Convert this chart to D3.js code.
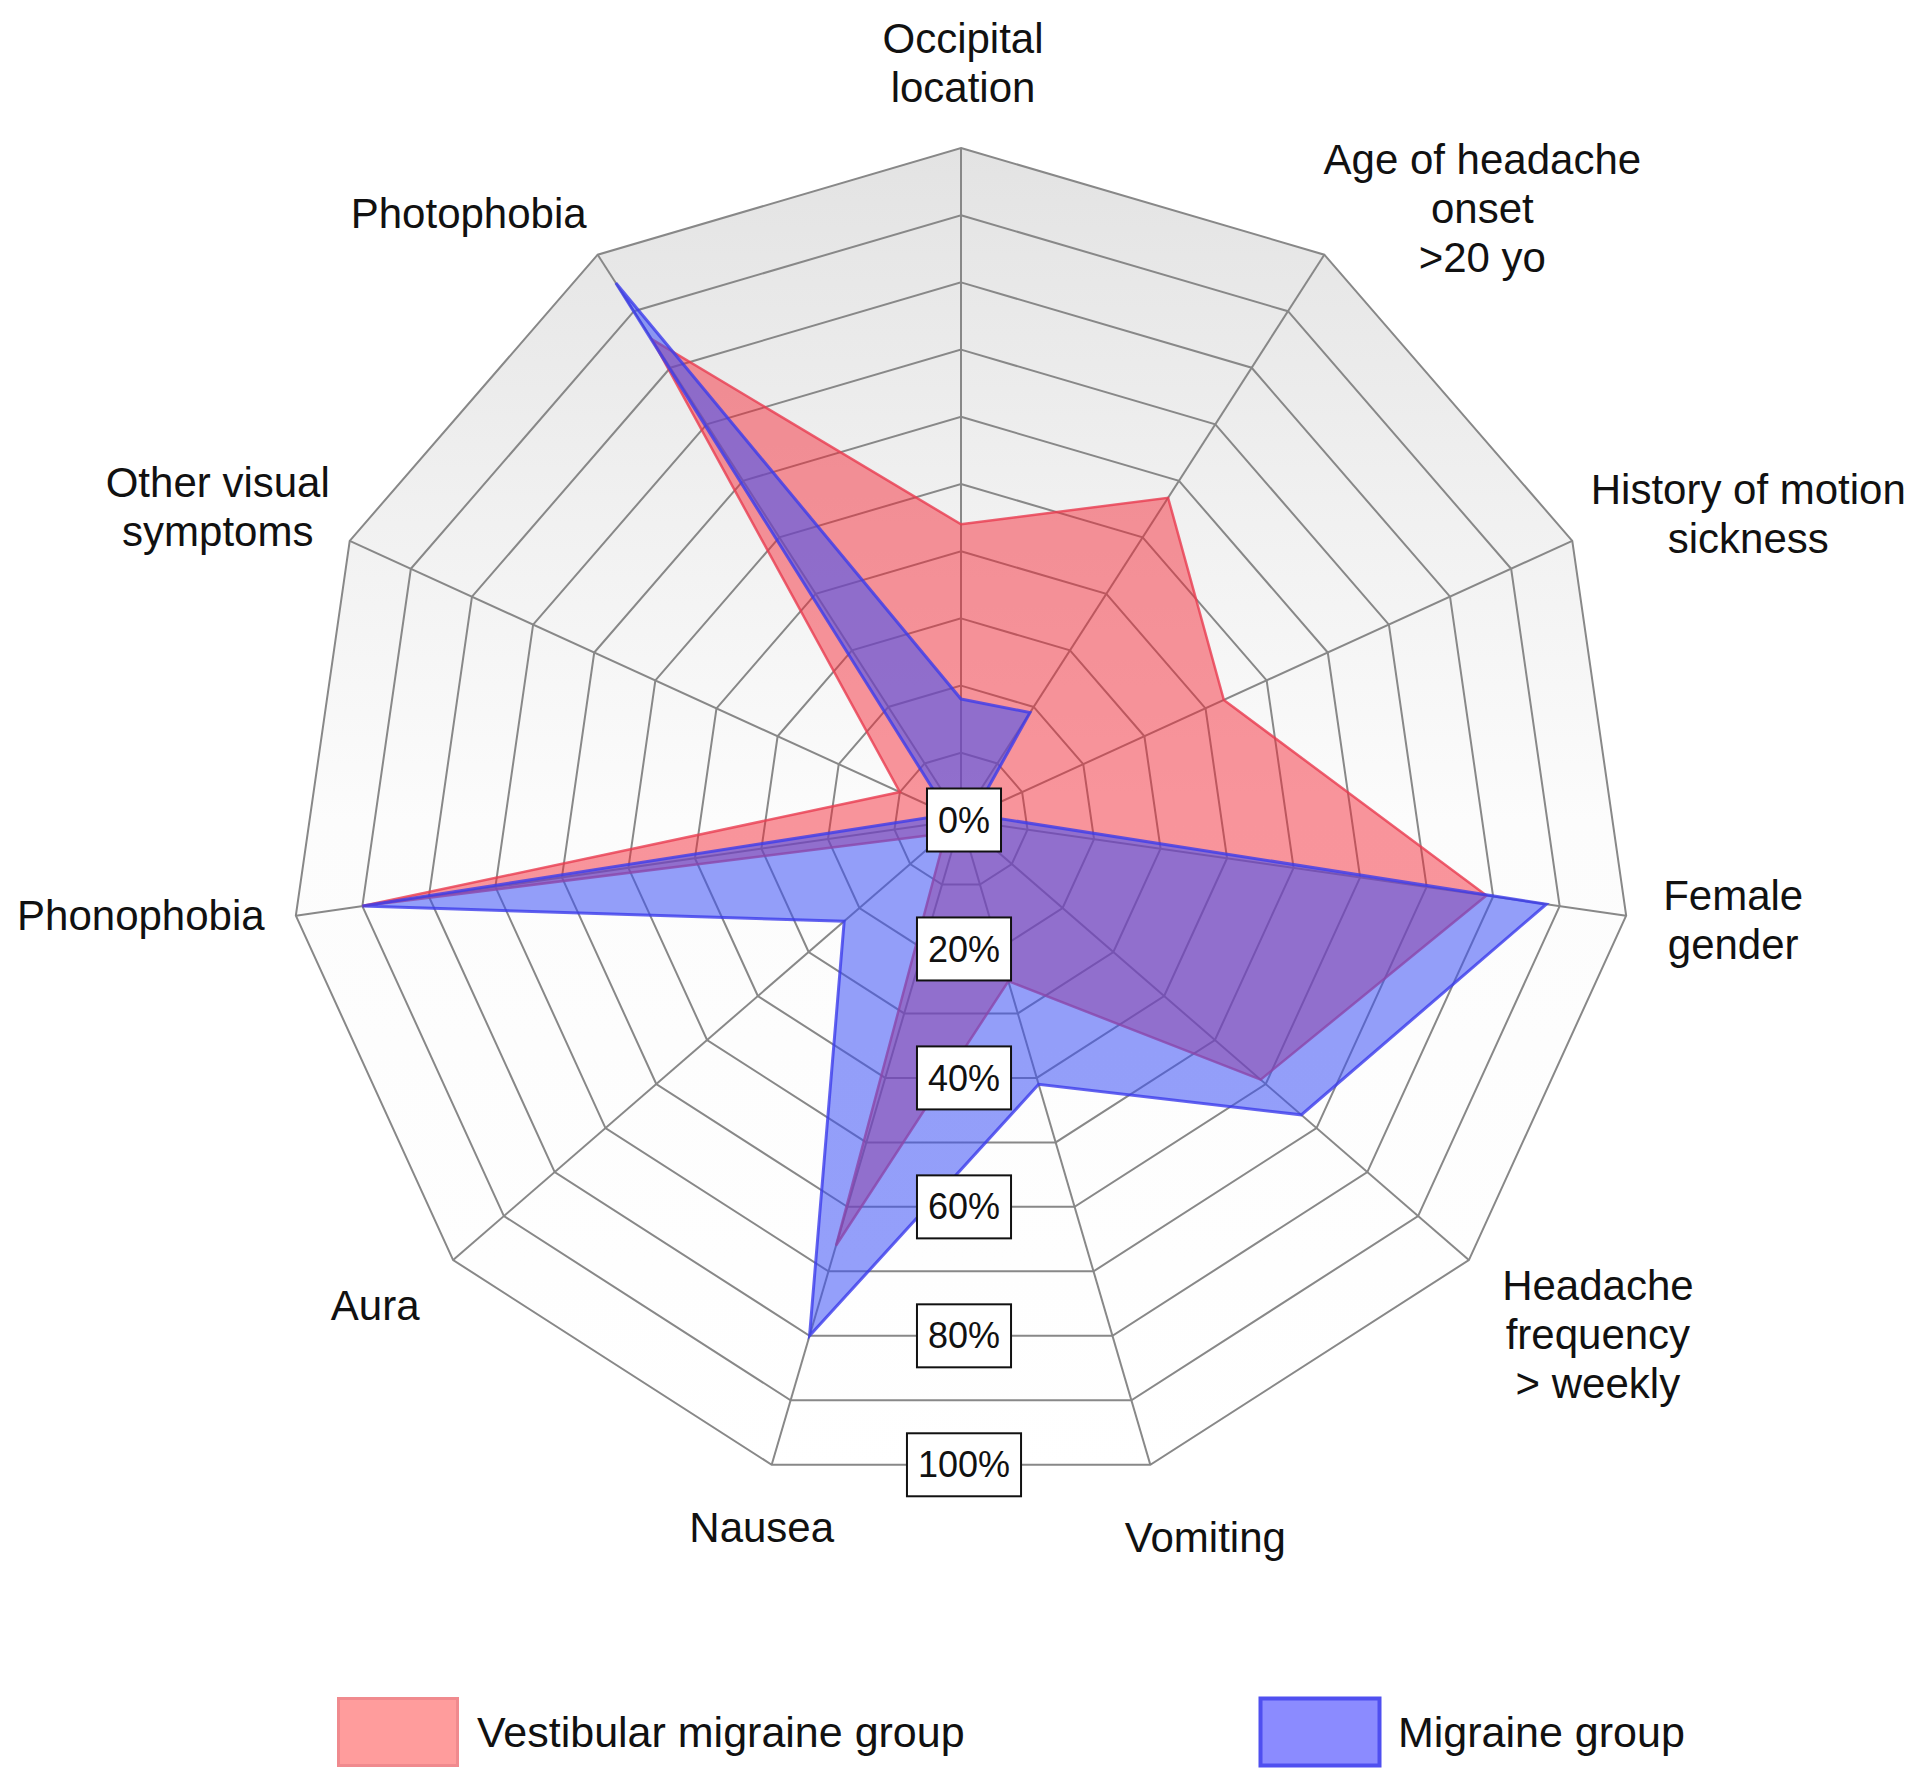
<!DOCTYPE html>
<html>
<head>
<meta charset="utf-8">
<script src="https://cdn.jsdelivr.net/npm/d3@7"></script>
<style>
  html, body { margin: 0; padding: 0; background: #ffffff; }
  svg { display: block; }
  text { font-family: "Liberation Sans", Arial, sans-serif; fill: #111; }
</style>
</head>
<body>
<svg id="chart" width="1920" height="1785"></svg>
<script>
// ---------------- data ----------------
const categories = [
  "Occipital location",
  "Age of headache onset >20 yo",
  "History of motion sickness",
  "Female gender",
  "Headache frequency > weekly",
  "Vomiting",
  "Nausea",
  "Aura",
  "Phonophobia",
  "Other visual symptoms",
  "Photophobia"
];
const categoryLines = [
  ["Occipital", "location"],
  ["Age of headache", "onset", ">20 yo"],
  ["History of motion", "sickness"],
  ["Female", "gender"],
  ["Headache", "frequency", "> weekly"],
  ["Vomiting"],
  ["Nausea"],
  ["Aura"],
  ["Phonophobia"],
  ["Other visual", "symptoms"],
  ["Photophobia"]
];
const vestibularMigraine = [44, 57, 43, 79, 59, 25, 66, 3, 90, 10, 85];
const migraineGroup      = [18, 19, 2, 88, 67, 41, 80, 23, 90, 2, 95];
const seriesNames = ["Vestibular migraine group", "Migraine group"];
const gridLevels = [10, 20, 30, 40, 50, 60, 70, 80, 90, 100];
const tickLabels = [0, 20, 40, 60, 80, 100];

// ---------------- layout ----------------
const cx = 961, cy = 820, R = 672;
const n = categories.length;
const svg = d3.select("#chart");
const rScale = d3.scaleLinear().domain([0, 100]).range([0, R]);
const angleOf = i => i * 2 * Math.PI / n;
const g = svg.append("g").attr("transform", `translate(${cx},${cy})`);

const radial = d3.lineRadial()
  .angle((d, i) => angleOf(i))
  .radius(d => rScale(d))
  .curve(d3.curveLinearClosed);

// background gradient inside outer polygon
const defs = svg.append("defs");
const grad = defs.append("linearGradient")
  .attr("id", "bg").attr("gradientUnits", "userSpaceOnUse")
  .attr("x1", 0).attr("x2", 0).attr("y1", -R).attr("y2", R);
grad.append("stop").attr("offset", 0).attr("stop-color", "#e3e3e3");
grad.append("stop").attr("offset", 0.5).attr("stop-color", "#fcfcfc");
grad.append("stop").attr("offset", 1).attr("stop-color", "#ffffff");

g.append("path")
  .attr("d", radial(d3.range(n).map(() => 100)))
  .attr("fill", "url(#bg)");

// grid rings
g.selectAll("path.ring").data(gridLevels).join("path")
  .attr("class", "ring")
  .attr("d", lv => radial(d3.range(n).map(() => lv)))
  .attr("fill", "none")
  .attr("stroke", "#888888")
  .attr("stroke-width", 2);

// spokes
g.selectAll("line.spoke").data(d3.range(n)).join("line")
  .attr("class", "spoke")
  .attr("x1", 0).attr("y1", 0)
  .attr("x2", i => rScale(100) * Math.sin(angleOf(i)))
  .attr("y2", i => -rScale(100) * Math.cos(angleOf(i)))
  .attr("stroke", "#888888")
  .attr("stroke-width", 2);

// series
const series = [
  { name: seriesNames[0], values: vestibularMigraine, fill: "rgb(245,35,50)", fo: 0.48, stroke: "rgb(232,60,80)", sw: 2.5,
    legendFill: "#ff9c9c", legendStroke: "#f08a8e" },
  { name: seriesNames[1], values: migraineGroup, fill: "rgb(60,80,245)", fo: 0.55, stroke: "rgb(60,60,235)", sw: 3,
    legendFill: "#8b8bff", legendStroke: "#4f4ff0" }
];
g.selectAll("path.series").data(series).join("path")
  .attr("class", "series")
  .attr("d", s => radial(s.values))
  .attr("fill", s => s.fill)
  .attr("fill-opacity", s => s.fo)
  .attr("stroke", s => s.stroke)
  .attr("stroke-opacity", 0.8)
  .attr("stroke-width", s => s.sw)
  .attr("stroke-linejoin", "miter");

// tick label boxes along the downward direction (edge midpoint)
const edgeFactor = Math.cos(Math.PI / n);
const tickG = g.selectAll("g.tick").data(tickLabels).join("g")
  .attr("class", "tick")
  .attr("transform", t => `translate(3,${rScale(t) * edgeFactor})`);
tickG.append("text")
  .attr("text-anchor", "middle")
  .attr("dy", "0.35em")
  .attr("font-size", 36)
  .text(t => t + "%");
tickG.each(function() {
  const gg = d3.select(this);
  const bb = gg.select("text").node().getBBox();
  const w = bb.width + 22, h = 63;
  gg.insert("rect", "text")
    .attr("x", -w / 2).attr("y", -h / 2)
    .attr("width", w).attr("height", h)
    .attr("fill", "#ffffff")
    .attr("stroke", "#111")
    .attr("stroke-width", 2);
});

// category labels: offset from axis tip
const labelOffsets = [
  [2, -85], [158, -46], [176, -27], [107, 4], [129, 74], [55, 73],
  [-10, 63], [-78, 45], [-155, 0], [-132, -34], [-129, -41]
];
const lineH = 49, fs = 42;
const labG = g.selectAll("g.cat").data(d3.range(n)).join("g")
  .attr("class", "cat")
  .attr("transform", i => {
    const tx = rScale(100) * Math.sin(angleOf(i)) + labelOffsets[i][0];
    const ty = -rScale(100) * Math.cos(angleOf(i)) + labelOffsets[i][1];
    return `translate(${tx},${ty})`;
  });
labG.each(function(i) {
  const lines = categoryLines[i];
  const top = -(lines.length - 1) * lineH / 2;
  d3.select(this).selectAll("text").data(lines).join("text")
    .attr("text-anchor", "middle")
    .attr("x", 0)
    .attr("y", (l, k) => top + k * lineH)
    .attr("dy", "0.35em")
    .attr("font-size", fs)
    .text(l => l);
});

// legend
const legendX = [337, 1259];
const legendG = svg.selectAll("g.legend").data(series).join("g")
  .attr("class", "legend")
  .attr("transform", (s, i) => `translate(${legendX[i]},1697)`);
legendG.append("rect")
  .attr("x", 1.5).attr("y", 1.5)
  .attr("width", 119).attr("height", 67)
  .attr("fill", s => s.legendFill)
  .attr("stroke", s => s.legendStroke)
  .attr("stroke-width", (s, i) => i === 0 ? 3 : 4);
legendG.append("text")
  .attr("x", (s, i) => i === 0 ? 140 : 139)
  .attr("y", 35)
  .attr("dy", "0.35em")
  .attr("font-size", 43)
  .text(s => s.name);
</script>
</body>
</html>
